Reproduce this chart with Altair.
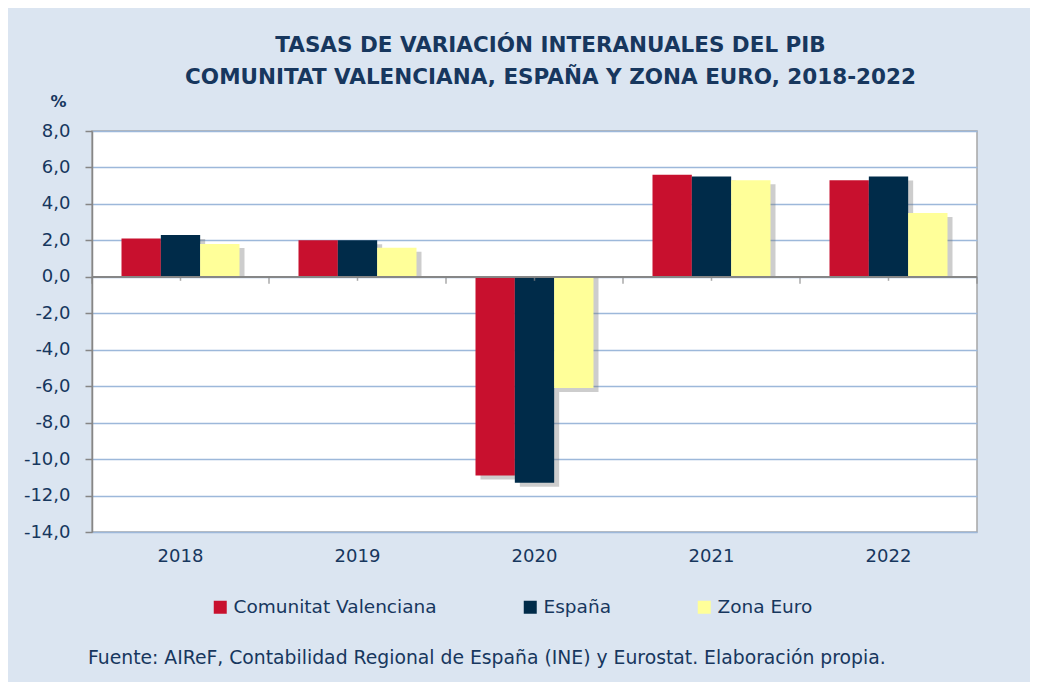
import altair as alt
import pandas as pd

years = ["2018", "2019", "2020", "2021", "2022"]
series = ["Comunitat Valenciana", "España", "Zona Euro"]
cv = [2.1, 2.0, -10.9, 5.6, 5.3]
es = [2.3, 2.0, -11.3, 5.5, 5.5]
ze = [1.8, 1.6, -6.1, 5.3, 3.5]
colors = ["#c8102e", "#002b49", "#ffff99"]
y_ticks = [8, 6, 4, 2, 0, -2, -4, -6, -8, -10, -12, -14]
title_lines = ["TASAS DE VARIACIÓN INTERANUALES DEL PIB",
               "COMUNITAT VALENCIANA, ESPAÑA Y ZONA EURO, 2018-2022"]
footer = "Fuente: AIReF, Contabilidad Regional de España (INE) y Eurostat. Elaboración propia."

rows = []
for i, yr in enumerate(years):
    for s, vals in zip(series, [cv, es, ze]):
        rows.append({"year": yr, "serie": s, "value": vals[i]})
df = pd.DataFrame(rows)
df_years = pd.DataFrame({"year": years})
df_last = pd.DataFrame({"year": [years[-1]]})

FONT = "DejaVu Sans"
TXT = "#17375e"
W, H = 885, 401
GRAY = "#868686"

xscale = alt.Scale(domain=years, paddingInner=0, paddingOuter=0)
yscale = alt.Scale(domain=[-14, 8], nice=False, zero=False)
band = W / len(years)

x_axis = alt.Axis(title=None, domain=False, ticks=False, labelAngle=0,
                  labelFontSize=18, labelColor=TXT, labelFont=FONT,
                  labelPadding=15, grid=False)
y_axis = alt.Axis(values=y_ticks, title="%", titleAngle=0, titleX=-34, titleY=-30,
                  titleAlign="center", titleBaseline="middle", titleFontSize=16,
                  titleFont=FONT, titleFontWeight="bold", titleColor=TXT,
                  labelExpr="replace(replace(format(datum.value, '.1f'), '.', ','), '\u2212', '-')",
                  labelFontSize=18, labelColor=TXT, labelFont=FONT,
                  labelPadding=15, tickSize=7, tickColor=GRAY, tickWidth=1.5,
                  domainColor=GRAY, domainWidth=1.5,
                  gridColor="#9db8da", gridWidth=1.5)

X = alt.X("year:N", scale=xscale, sort=years, axis=x_axis)
Y = alt.Y("value:Q", scale=yscale, axis=y_axis)

shadow = alt.Chart(df).mark_bar(color="#6f6f6f", opacity=0.35, yOffset=4).encode(
    x=X,
    xOffset=alt.XOffset("serie:N", sort=series,
                        scale=alt.Scale(domain=series, paddingOuter=0.75, paddingInner=0,
                                        range=[5, band + 5])),
    y=Y,
    y2=alt.datum(0),
)

bars = alt.Chart(df).mark_bar().encode(
    x=X,
    xOffset=alt.XOffset("serie:N", sort=series,
                        scale=alt.Scale(domain=series, paddingOuter=0.75, paddingInner=0,
                                        range=[0, band])),
    y=Y,
    y2=alt.datum(0),
    color=alt.Color("serie:N", scale=alt.Scale(domain=series, range=colors),
                    legend=alt.Legend(title=None, orient="none", legendX=119, legendY=467,
                                      direction="horizontal", symbolType="square",
                                      symbolSize=169, symbolStrokeWidth=0,
                                      labelFontSize=18.5, labelFont=FONT, labelColor=TXT,
                                      labelLimit=0, columnPadding=84, labelOffset=4,
                                      gridAlign="none")),
)

zero_line = alt.Chart(df_years).mark_rule(color=GRAY, strokeWidth=1.5).encode(
    y=alt.Y("v:Q", scale=yscale, axis=y_axis)
).transform_calculate(v="0")

edge_ticks = alt.Chart(df_years).mark_tick(
    color=GRAY, orient="vertical", size=7, thickness=1.5, yOffset=3.5
).encode(x=alt.X("year:N", scale=xscale, sort=years, axis=x_axis, bandPosition=0),
         y=alt.Y("v:Q", scale=yscale, axis=y_axis)).transform_calculate(v="0")

end_tick = alt.Chart(df_last).mark_tick(
    color=GRAY, orient="vertical", size=7, thickness=1.5, yOffset=3.5
).encode(x=alt.X("year:N", scale=xscale, sort=years, axis=x_axis, bandPosition=1),
         y=alt.Y("v:Q", scale=yscale, axis=y_axis)).transform_calculate(v="0")

center_ticks = alt.Chart(df_years).mark_tick(
    color=GRAY, orient="vertical", size=4, thickness=1.5, yOffset=2
).encode(x=alt.X("year:N", scale=xscale, sort=years, axis=x_axis, bandPosition=0.5),
         y=alt.Y("v:Q", scale=yscale, axis=y_axis)).transform_calculate(v="0")

foot = alt.Chart(pd.DataFrame({"t": [footer]})).mark_text(
    align="left", baseline="middle", fontSize=18.8, font=FONT, color=TXT
).encode(text="t:N", x=alt.value(-4), y=alt.value(527))

chart = alt.layer(shadow, bars, zero_line, edge_ticks, end_tick, center_ticks, foot).resolve_scale(
    xOffset="independent"
).properties(
    width=W, height=H,
    title=alt.Title(text=title_lines, fontSize=21.5, font=FONT, fontWeight="bold",
                    color=TXT, anchor="middle", dx=16, offset=5, lineHeight=32),
    background="#dbe5f1",
    padding={"left": 84, "top": 123, "right": 53, "bottom": 150},
    autosize=alt.AutoSizeParams(type="none"),
).configure_view(fill="white", stroke="#a6a6a6", strokeWidth=1.5)

chart.save("out.html", embed_options={"renderer": "svg", "actions": False})
